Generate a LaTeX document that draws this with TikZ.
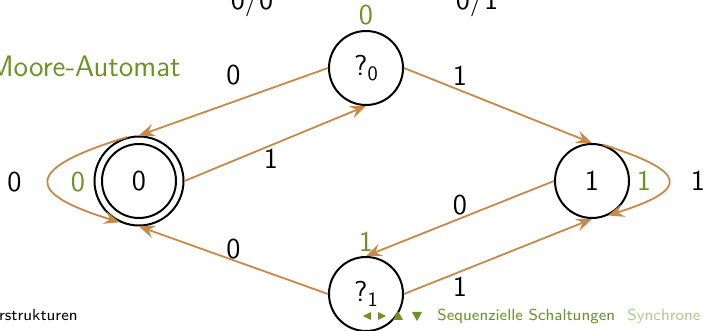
\documentclass[tikz,border=0pt]{standalone}
\usetikzlibrary{arrows.meta}
\definecolor{edgebrown}{RGB}{199,137,72}
\definecolor{mgreen}{RGB}{107,146,35}
\definecolor{lgreen}{RGB}{176,202,138}
\newcommand{\subtxt}[1]{\raisebox{-2.5pt}{\fontsize{10.2}{12}\selectfont #1}}
\begin{document}
\begin{tikzpicture}[x=0.5pt,y=-0.5pt,
  font=\fontsize{14.4}{17}\selectfont\sffamily,
  state/.style={circle, draw, line width=1pt, minimum size=37pt, inner sep=0pt},
  accept/.style={circle, draw, line width=1pt, minimum size=44.5pt, inner sep=0pt},
  trans/.style={draw=edgebrown, line width=0.9pt, -{Stealth[length=8pt,width=6.5pt,inset=3pt]}},
  lbl/.style={inner sep=0pt, anchor=center},
  outg/.style={lbl, text=mgreen},
  foot/.style={inner sep=0pt, font=\fontsize{8}{10}\selectfont\sffamily},
  navtri/.style={fill=mgreen, draw=none}]
\useasboundingbox (0,0) rectangle (703,331);

% top texts (cut off)
\node[inner sep=0pt, anchor=base] (t00) at (252,10) {0/0};
\node[inner sep=0pt, anchor=base] (t01) at (477,10) {0/1};
\node[inner sep=0pt, anchor=base east, text=mgreen, font=\fontsize{14.8}{17}\selectfont\sffamily] (title) at (181,77) {Moore-Automat};

% states
\node[state] (q0) at (366,68) {?\subtxt{0}};
\node[state] (q1) at (366,294) {?\subtxt{1}};
\node[state] (s1) at (592,181) {1};
\node[accept] (s0) at (139,181) {0};
\draw[line width=1pt] (s0.center) circle[radius=18.5pt];

% transitions
\draw[trans] (q0.west) -- (s0.north);
\draw[trans] (s0.east) -- (q0.south);
\draw[trans] (q0.east) -- (s1.north);
\draw[trans] (s1.west) -- (q1.north);
\draw[trans] (q1.east) -- (s1.south);
\draw[trans] (q1.west) -- (s0.south);
\draw[trans] (s0.105) .. controls +(-105,32) and +(-95,-29) .. (s0.245);
\draw[trans] (s1.73) .. controls +(86,27.5) and +(82,-26) .. (s1.295);

% input labels
\node[lbl] (l1) at (233.5,75) {0};
\node[lbl] (l2) at (460,76) {1};
\node[lbl] (l3) at (271,159) {1};
\node[lbl] (l4) at (233.5,249) {0};
\node[lbl] (l5) at (460,205) {0};
\node[lbl] (l6) at (460,287) {1};
\node[lbl] (l7) at (14.5,182) {0};
\node[lbl] (l8) at (698,181) {1};

% outputs
\node[outg] (o1) at (78,182) {0};
\node[outg] (o2) at (644,181) {1};
\node[outg] (o3) at (366,15) {0};
\node[outg] (o4) at (366,242) {1};

% footer
\node[foot, anchor=base east] (f1) at (78,321) {erstrukturen};
\node[foot, anchor=base west, text=mgreen] (f2) at (437,321) {Sequenzielle Schaltungen};
\node[foot, anchor=base west, text=lgreen] (f3) at (627,321) {Synchrone};
\fill[navtri] (363,316) -- (371,312) -- (371,320) -- cycle;
\fill[navtri] (378,312) -- (378,320) -- (386,316) -- cycle;
\fill[navtri] (393,320) -- (403,320) -- (398,311) -- cycle;
\fill[navtri] (412,312) -- (422,312) -- (417,321) -- cycle;
\end{tikzpicture}
\end{document}
